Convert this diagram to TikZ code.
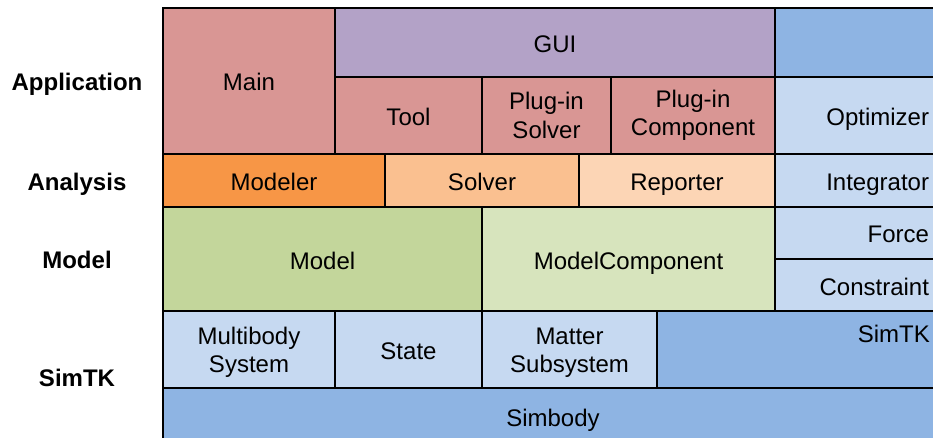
\documentclass[tikz,border=0pt]{standalone}
\usepackage{fontspec}
\setmainfont{Liberation Sans}
\definecolor{mainred}{HTML}{D99694}
\definecolor{guipurple}{HTML}{B3A2C7}
\definecolor{modelerorange}{HTML}{F79646}
\definecolor{solverorange}{HTML}{FAC090}
\definecolor{reporterorange}{HTML}{FCD5B5}
\definecolor{modelgreen}{HTML}{C3D69B}
\definecolor{compgreen}{HTML}{D7E4BD}
\definecolor{lightblue}{HTML}{C6D9F1}
\definecolor{darkblue}{HTML}{8EB4E3}
\tikzset{
  txtfont/.style={font=\fontsize{24}{28.5}\selectfont},
  box/.style={draw=black, line width=2pt, inner sep=0pt, outer sep=0pt,
    anchor=north west, align=center, txtfont},
  oneline/.style={text height=20pt, text depth=0pt},
  twoline/.style={yshift=-3pt},
  rbox/.style={box, oneline, inner xsep=16pt, text width=138pt, align=right},
  lbl/.style={font=\fontsize{24}{28.5}\selectfont\bfseries, inner sep=0pt, oneline},
  plain/.style={txtfont, inner sep=0pt, oneline},
}
\begin{document}
\begin{tikzpicture}[x=1pt, y=-1pt]
\clip (0,0) rectangle (933,438);
\fill[white] (0,0) rectangle (933,438);
% layer labels
\node[lbl] (lapp) at (77,80.5) {Application};
\node[lbl] (lana) at (77,180.5) {Analysis};
\node[lbl] (lmod) at (77,258.5) {Model};
\node[lbl] (lsim) at (77,376.5) {SimTK};
% Application row
\node[box, oneline, fill=mainred, minimum width=172, minimum height=146] (main) at (163,8) {Main};
\node[box, oneline, fill=guipurple, minimum width=440, minimum height=69] (gui) at (335,8) {GUI};
\node[box, fill=darkblue, minimum width=170, minimum height=69] (topblue) at (775,8) {};
\node[box, oneline, fill=mainred, minimum width=147, minimum height=77] (tool) at (335,77) {Tool};
\node[box, fill=mainred, minimum width=129, minimum height=77] (psolver) at (482,77) {Plug-in\\Solver};
\node[box, fill=mainred, minimum width=164, minimum height=77] (pcomp) at (611,77) {Plug-in\\Component};
\node[rbox, fill=lightblue, minimum width=170, minimum height=77] (optimizer) at (775,77) {Optimizer};
% Analysis row
\node[box, oneline, fill=modelerorange, minimum width=222, minimum height=53] (modeler) at (163,154) {Modeler};
\node[box, oneline, fill=solverorange, minimum width=194, minimum height=53] (solver) at (385,154) {Solver};
\node[box, oneline, fill=reporterorange, minimum width=196, minimum height=53] (reporter) at (579,154) {Reporter};
\node[rbox, fill=lightblue, minimum width=170, minimum height=53] (integrator) at (775,154) {Integrator};
% Model row
\node[box, oneline, fill=modelgreen, minimum width=319, minimum height=104] (model) at (163,207) {Model};
\node[box, oneline, fill=compgreen, minimum width=293, minimum height=104] (mcomp) at (482,207) {ModelComponent};
\node[rbox, fill=lightblue, minimum width=170, minimum height=52] (force) at (775,207) {Force};
\node[rbox, fill=lightblue, minimum width=170, minimum height=52] (constraint) at (775,259) {Constraint};
% SimTK row
\node[box, fill=lightblue, minimum width=172, minimum height=77] (multibody) at (163,311) {};
\node[txtfont, align=center, inner sep=0pt, twoline] (multibodytxt) at (multibody.center) {Multibody\\System};
\node[box, oneline, fill=lightblue, minimum width=147, minimum height=77] (state) at (335,311) {State};
\node[box, fill=lightblue, minimum width=175, minimum height=77] (matter) at (482,311) {};
\node[txtfont, align=center, inner sep=0pt, twoline] (mattertxt) at (matter.center) {Matter\\Subsystem};
\node[box, fill=darkblue, minimum width=290, minimum height=77] (simtkbox) at (657,311) {};
\node[plain, anchor=east] (simtktxt) at (930,332) {SimTK};
\node[box, oneline, fill=darkblue, minimum width=780, minimum height=56] (simbody) at (163,388) {Simbody};
\end{tikzpicture}
\end{document}
